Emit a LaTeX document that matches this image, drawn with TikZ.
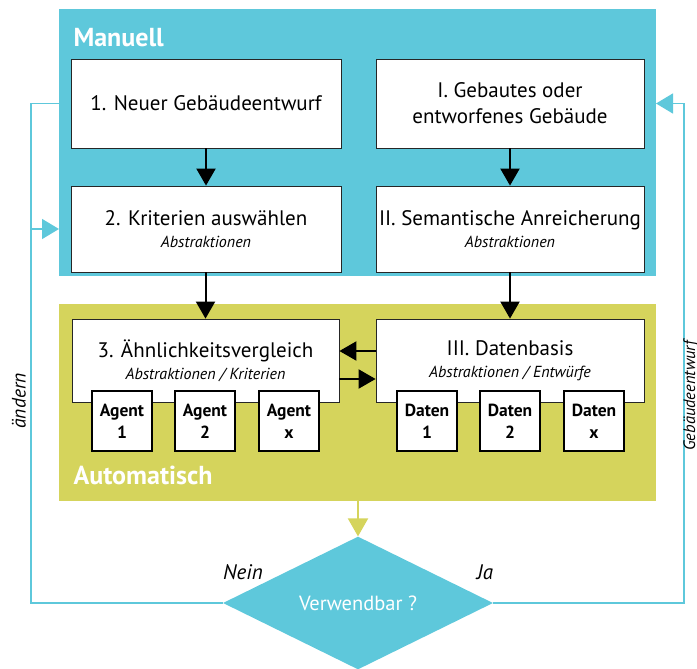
\documentclass[tikz,border=0pt]{standalone}
\usepackage{fontspec}
\setmainfont{PT Sans}
\usetikzlibrary{arrows.meta,shapes.geometric}
\definecolor{manblue}{RGB}{94,200,219}
\definecolor{autogreen}{RGB}{213,212,92}
\newcommand\subline[1]{{\fontsize{16}{19}\selectfont\itshape #1}}

\begin{document}
\begin{tikzpicture}[x=1pt,y=-1pt,font=\fontsize{21}{26}\selectfont,
  panel/.style={inner sep=0pt,outer sep=0pt},
  stepbox/.style={draw=black!85,line width=.8pt,fill=white,align=center,inner sep=0pt},
  tag/.style={draw=black,line width=1.7pt,fill=white,align=center,inner sep=0pt,
    minimum width=60pt,minimum height=60pt,font=\fontsize{17.5}{22}\selectfont\bfseries},
  flow/.style={-{Triangle[length=17pt,width=19pt]},line width=2pt},
  back/.style={draw=manblue,line width=1.5pt},
  title/.style={anchor=base west,text=white,font=\fontsize{26}{30}\selectfont\bfseries},
  side/.style={font=\fontsize{21}{24}\selectfont\itshape}]
 \useasboundingbox (0,0) rectangle (697,669);
 \node[panel,fill=manblue,minimum width=597pt,minimum height=267pt] (manuell) at (357.5,142.5) {};
 \node[panel,fill=autogreen,minimum width=597pt,minimum height=197pt] (auto) at (357.5,402.5) {};
 \node[title] (tman) at (70,47) {Manuell};
 \node[title] (tauto) at (70,484) {Automatisch};

 \node[stepbox,minimum width=270pt,minimum height=89pt] (box1) at (206,103.5) {1. Neuer Gebäudeentwurf};
 \node[stepbox,minimum width=268pt,minimum height=89pt] (boxI) at (510,103.5) {I. Gebautes oder\\entworfenes Gebäude};
 \node[stepbox,minimum width=270pt,minimum height=86pt] (box2) at (206,229) {2. Kriterien auswählen\\[-4pt]\subline{Abstraktionen}};
 \node[stepbox,minimum width=268pt,minimum height=86pt] (boxII) at (510,229) {II. Semantische Anreicherung\\[-4pt]\subline{Abstraktionen}};
 \node[stepbox,minimum width=267pt,minimum height=83pt] (box3) at (205.5,360.5) {3. Ähnlichkeitsvergleich\\[-4pt]\subline{Abstraktionen / Kriterien}};
 \node[stepbox,minimum width=268pt,minimum height=83pt] (boxIII) at (510,360.5) {III. Datenbasis\\[-4pt]\subline{Abstraktionen / Entwürfe}};

 \node[tag] (ag1) at (122,421) {Agent\\1};
 \node[tag] (ag2) at (205,421) {Agent\\2};
 \node[tag] (agx) at (289,421) {Agent\\x};
 \node[tag] (da1) at (427,421) {Daten\\1};
 \node[tag] (da2) at (510,421) {Daten\\2};
 \node[tag] (dax) at (594,421) {Daten\\x};

 \draw[flow] (box1) -- (box2);
 \draw[flow] (boxI) -- (boxII);
 \draw[flow] ([xshift=-.5pt]box2.south) -- (box3);
 \draw[flow] (boxII) -- (boxIII);
 \draw[flow] ([yshift=9.5pt]boxIII.west) -- ([yshift=9.5pt]box3.east);
 \draw[flow] ([yshift=-18.5pt]box3.east) -- ([yshift=-18.5pt]boxIII.west);

 \node[diamond,fill=manblue,inner sep=0pt,minimum width=270pt,minimum height=132pt,
   text=white,font=\fontsize{20.5}{24}\selectfont] (check) at (358,603) {Verwendbar ?};
 \draw[-{Triangle[length=18pt,width=20pt]},draw=autogreen,line width=2pt]
   (auto.south -| check) -- (check.north);

 \coordinate (lft) at (31,0);
 \coordinate (rgt) at (684,0);
 \draw[back] (check.west) -- (check.west -| lft) -- (box1 -| lft) -- (box1 -| manuell.west);
 \draw[back,-{Triangle[length=17pt,width=20pt]}] (box2 -| lft) -- (box2 -| manuell.west);
 \draw[back,-{Triangle[length=17pt,width=20pt]}] (check.east) -- (check.east -| rgt)
   -- (boxI -| rgt) -- (boxI -| manuell.east);

 \node[side] (nein) at (243,572) {Nein};
 \node[side] (ja) at (485,572) {Ja};
 \node[side,rotate=90,font=\fontsize{19.5}{22}\selectfont\itshape] (aendern) at (19,401) {ändern};
 \node[side,rotate=90,font=\fontsize{16.5}{19}\selectfont\itshape] (entwurf) at (691,396) {Gebäudeentwurf};
\end{tikzpicture}
\end{document}
